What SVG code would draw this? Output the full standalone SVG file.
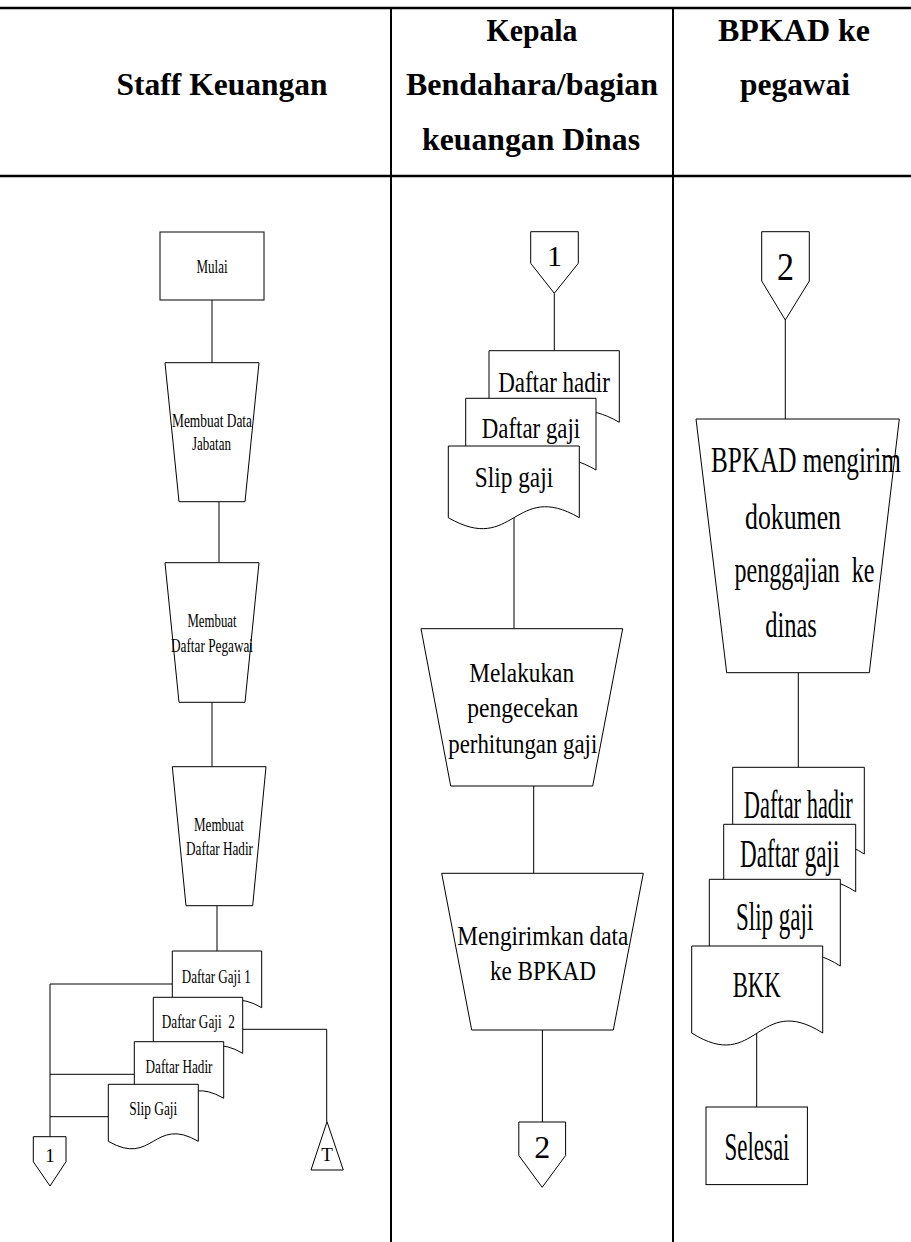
<svg xmlns="http://www.w3.org/2000/svg" width="911" height="1242" viewBox="0 0 911 1242">
  <style>
    .lane { stroke: #000; stroke-width: 2; fill: none; }
    .rule { stroke: #000; stroke-width: 2.5; fill: none; }
    .shape { fill: #fff; stroke: #000; stroke-width: 1; }
    .wire { stroke: #000; stroke-width: 1; fill: none; }
    .t { font-family: "Liberation Serif", "Times New Roman", serif; text-anchor: middle; fill: #000; }
    .h { font-weight: bold; font-size: 32px; }
    .s { font-size: 19px; }
    .m { font-size: 27px; }
    .d { font-size: 30px; }
    .r { font-size: 36px; }
    .rd { font-size: 40px; }
  </style>
  <rect width="911" height="1242" fill="#fff"/>

  <!-- swimlane table -->
  <g id="lanes">
    <line class="rule" x1="0" y1="8" x2="911" y2="8"/>
    <line class="rule" x1="0" y1="176" x2="911" y2="176"/>
    <line class="lane" x1="391" y1="8" x2="391" y2="1242"/>
    <line class="lane" x1="673" y1="8" x2="673" y2="1242"/>
    <text class="t h" x="222" y="95" textLength="211" lengthAdjust="spacingAndGlyphs">Staff Keuangan</text>
    <text class="t h" x="532" y="41" textLength="91" lengthAdjust="spacingAndGlyphs">Kepala</text>
    <text class="t h" x="532" y="95" textLength="252" lengthAdjust="spacingAndGlyphs">Bendahara/bagian</text>
    <text class="t h" x="531" y="150" textLength="218" lengthAdjust="spacingAndGlyphs">keuangan Dinas</text>
    <text class="t h" x="794" y="41" textLength="152" lengthAdjust="spacingAndGlyphs">BPKAD ke</text>
    <text class="t h" x="795" y="95" textLength="110" lengthAdjust="spacingAndGlyphs">pegawai</text>
  </g>

  <!-- connectors -->
  <g id="connectors">
    <line class="wire" x1="212" y1="300" x2="212" y2="362.7"/>
    <line class="wire" x1="219" y1="501.7" x2="219" y2="562.7"/>
    <line class="wire" x1="212" y1="702.3" x2="212" y2="766.7"/>
    <line class="wire" x1="217" y1="905.7" x2="217" y2="951"/>
    <polyline class="wire" points="172.3,984 50,984 50,1136.7"/>
    <line class="wire" x1="134.3" y1="1074.3" x2="50" y2="1074.3"/>
    <line class="wire" x1="108.3" y1="1116.7" x2="50" y2="1116.7"/>
    <polyline class="wire" points="242.7,1029.3 326.7,1029.3 326.7,1121.7"/>

    <line class="wire" x1="554.3" y1="293.3" x2="554.3" y2="350.7"/>
    <line class="wire" x1="514" y1="517.7" x2="514" y2="628.7"/>
    <line class="wire" x1="533.7" y1="786" x2="533.7" y2="873.3"/>
    <line class="wire" x1="542.4" y1="1030" x2="542.4" y2="1122"/>

    <line class="wire" x1="785.3" y1="320" x2="785.3" y2="419"/>
    <line class="wire" x1="798.3" y1="672.7" x2="798.3" y2="767.3"/>
    <line class="wire" x1="756.7" y1="1033" x2="756.7" y2="1107"/>
  </g>

  <!-- Staff Keuangan lane -->
  <g id="mulai">
    <rect class="shape" x="160" y="232" width="104" height="68"/>
    <text class="t s" x="212" y="273" textLength="31" lengthAdjust="spacingAndGlyphs">Mulai</text>
  </g>
  <g id="buat-data-jabatan">
    <polygon class="shape" points="165,362.7 259,362.7 245,501.7 179,501.7"/>
    <text class="t s" x="212" y="427" textLength="80" lengthAdjust="spacingAndGlyphs">Membuat Data</text>
    <text class="t s" x="211.5" y="450" textLength="39" lengthAdjust="spacingAndGlyphs">Jabatan</text>
  </g>
  <g id="buat-daftar-pegawai">
    <polygon class="shape" points="165,562.7 259,562.7 245,702.3 179,702.3"/>
    <text class="t s" x="212" y="627" textLength="49" lengthAdjust="spacingAndGlyphs">Membuat</text>
    <text class="t s" x="212" y="652" textLength="82" lengthAdjust="spacingAndGlyphs">Daftar Pegawai</text>
  </g>
  <g id="buat-daftar-hadir">
    <polygon class="shape" points="172.3,766.7 266,766.7 252.7,905.7 186,905.7"/>
    <text class="t s" x="219" y="831" textLength="50" lengthAdjust="spacingAndGlyphs">Membuat</text>
    <text class="t s" x="219.5" y="855" textLength="67" lengthAdjust="spacingAndGlyphs">Daftar Hadir</text>
  </g>
  <g id="dok-daftar-gaji-1">
    <path class="shape" d="M172.3,951 H261.7 V1007.7 C217,981.7 217,1033.7 172.3,1007.7 Z"/>
    <text class="t s" x="216.2" y="982.7" textLength="69" lengthAdjust="spacingAndGlyphs">Daftar Gaji 1</text>
  </g>
  <g id="dok-daftar-gaji-2">
    <path class="shape" d="M153.3,997.3 H242.7 V1053.3 C198,1027.3 198,1079.3 153.3,1053.3 Z"/>
    <text class="t s" x="198.3" y="1027.7" textLength="73" lengthAdjust="spacingAndGlyphs" style="white-space:pre">Daftar Gaji  2</text>
  </g>
  <g id="dok-daftar-hadir-staff">
    <path class="shape" d="M134.3,1041.7 H223.7 V1098.3 C179,1072.3 179,1124.3 134.3,1098.3 Z"/>
    <text class="t s" x="179" y="1072.7" textLength="67" lengthAdjust="spacingAndGlyphs">Daftar Hadir</text>
  </g>
  <g id="dok-slip-gaji-staff">
    <path class="shape" d="M108.3,1084.3 H198.3 V1141.3 C153.3,1115.3 153.3,1167.3 108.3,1141.3 Z"/>
    <text class="t s" x="153.3" y="1115" textLength="48" lengthAdjust="spacingAndGlyphs">Slip Gaji</text>
  </g>
  <g id="offpage-1-out">
    <polygon class="shape" points="33.3,1136.7 66,1136.7 66,1161.7 50,1186 33.3,1161.7"/>
    <text class="t s" x="50" y="1162">1</text>
  </g>
  <g id="arsip-t">
    <polygon class="shape" points="327,1121.7 343.3,1170 311,1170"/>
    <text class="t s" x="327" y="1161">T</text>
  </g>

  <!-- Kepala Bendahara lane -->
  <g id="offpage-1-in">
    <polygon class="shape" points="530.7,231.7 578.3,231.7 578.3,263.3 554.3,293.3 530.7,263.3"/>
    <text class="t" x="554.5" y="266" font-size="30">1</text>
  </g>
  <g id="dok-daftar-hadir-kb">
    <path class="shape" d="M489,350.7 H619.3 V422.3 C554,384.3 554,460.3 489,422.3 Z"/>
    <text class="t d" x="554" y="391.7" textLength="111.7" lengthAdjust="spacingAndGlyphs">Daftar hadir</text>
  </g>
  <g id="dok-daftar-gaji-kb">
    <path class="shape" d="M465.7,398.3 H596 V470 C531,432 531,508 465.7,470 Z"/>
    <text class="t d" x="531" y="438.3" textLength="98.3" lengthAdjust="spacingAndGlyphs">Daftar gaji</text>
  </g>
  <g id="dok-slip-gaji-kb">
    <path class="shape" d="M448.3,446 H579.3 V517.7 C514,479.7 514,555.7 448.3,517.7 Z"/>
    <text class="t d" x="514" y="486.7" textLength="78.3" lengthAdjust="spacingAndGlyphs">Slip gaji</text>
  </g>
  <g id="cek-perhitungan">
    <polygon class="shape" points="421,628.7 622.7,628.7 592.7,786 450.7,786"/>
    <text class="t m" x="521.7" y="681.7" textLength="104.7" lengthAdjust="spacingAndGlyphs">Melakukan</text>
    <text class="t m" x="522.8" y="716.7" textLength="111" lengthAdjust="spacingAndGlyphs">pengecekan</text>
    <text class="t m" x="522.8" y="753.3" textLength="149" lengthAdjust="spacingAndGlyphs">perhitungan gaji</text>
  </g>
  <g id="kirim-bpkad">
    <polygon class="shape" points="441.7,873.3 643.3,873.3 613.3,1030 471.7,1030"/>
    <text class="t m" x="542.8" y="945" textLength="171" lengthAdjust="spacingAndGlyphs">Mengirimkan data</text>
    <text class="t m" x="543" y="980" textLength="106" lengthAdjust="spacingAndGlyphs">ke BPKAD</text>
  </g>
  <g id="offpage-2-out">
    <polygon class="shape" points="518.8,1122 565.6,1122 565.6,1155.5 542.2,1187.3 518.8,1155.5"/>
    <text class="t" x="542.2" y="1158" font-size="32">2</text>
  </g>

  <!-- BPKAD lane -->
  <g id="offpage-2-in">
    <polygon class="shape" points="761.7,231.7 809.3,231.7 809.3,281 785.3,320 761.7,281"/>
    <text class="t" x="785.5" y="280" font-size="41" textLength="17" lengthAdjust="spacingAndGlyphs">2</text>
  </g>
  <g id="kirim-dokumen">
    <polygon class="shape" points="696,419 899.3,419 869.3,672.7 726.7,672.7"/>
    <text class="t r" x="806" y="472" textLength="190" lengthAdjust="spacingAndGlyphs">BPKAD mengirim</text>
    <text class="t r" x="793" y="529" textLength="96" lengthAdjust="spacingAndGlyphs">dokumen</text>
    <text class="t r" x="804.5" y="582" textLength="140" lengthAdjust="spacingAndGlyphs" style="white-space:pre">penggajian  ke</text>
    <text class="t r" x="791" y="637" textLength="51.7" lengthAdjust="spacingAndGlyphs">dinas</text>
  </g>
  <g id="dok-daftar-hadir-bp">
    <path class="shape" d="M732.7,767.3 H864.3 V854 C798.5,812.5 798.5,895.5 732.7,854 Z"/>
    <text class="t rd" x="798.3" y="818.3" textLength="109" lengthAdjust="spacingAndGlyphs">Daftar hadir</text>
  </g>
  <g id="dok-daftar-gaji-bp">
    <path class="shape" d="M723.7,824.3 H855.7 V891.7 C789.7,850.2 789.7,933.2 723.7,891.7 Z"/>
    <text class="t rd" x="789.7" y="866.7" textLength="99.3" lengthAdjust="spacingAndGlyphs">Daftar gaji</text>
  </g>
  <g id="dok-slip-gaji-bp">
    <path class="shape" d="M709.3,879.3 H840.3 V966 C774.8,924.5 774.8,1007.5 709.3,966 Z"/>
    <text class="t rd" x="774.7" y="930" textLength="77.3" lengthAdjust="spacingAndGlyphs">Slip gaji</text>
  </g>
  <g id="dok-bkk">
    <path class="shape" d="M691.7,946 H822.7 V1033 C757.2,991.5 757.2,1074.5 691.7,1033 Z"/>
    <text class="t r" x="756.7" y="997.3" textLength="48" lengthAdjust="spacingAndGlyphs">BKK</text>
  </g>
  <g id="selesai">
    <rect class="shape" x="706" y="1107" width="101.4" height="77.6"/>
    <text class="t" x="757" y="1160" font-size="40" textLength="65" lengthAdjust="spacingAndGlyphs">Selesai</text>
  </g>
</svg>
